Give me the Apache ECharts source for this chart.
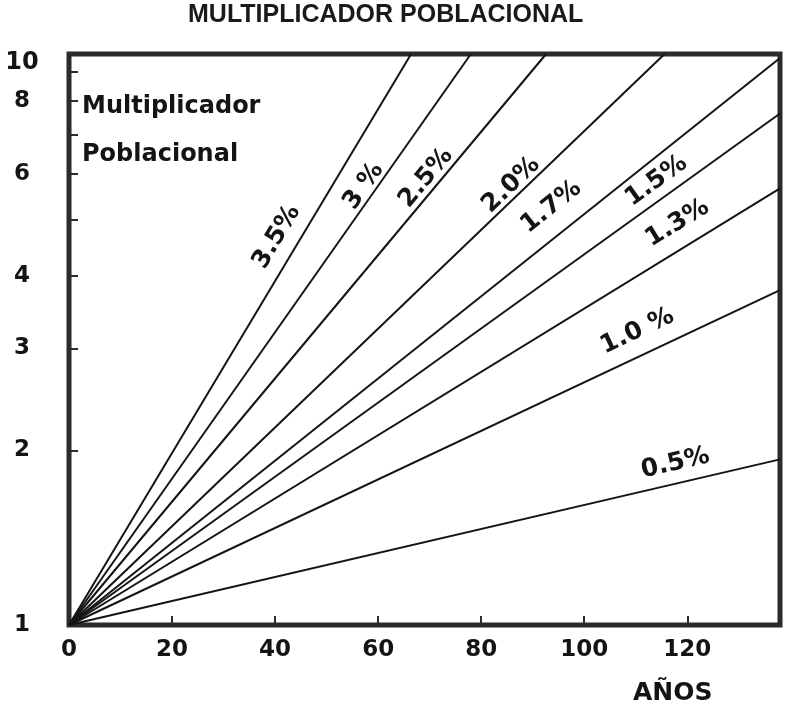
<!DOCTYPE html>
<html><head><meta charset="utf-8">
<script src="https://cdn.jsdelivr.net/npm/echarts@6/dist/echarts.min.js"></script>
<style>html,body{margin:0;padding:0;background:#fff}#c{width:785px;height:708px}</style>
</head><body><div id="c"></div>
<script>
// ---- data ----
const rateLabels = ['3.5%', '3 %', '2.5%', '2.0%', '1.7%', '1.5%', '1.3%', '1.0 %', '0.5%'];
const startYear = 0;
const startValue = 1;
const endYears  = [66.4, 78.0, 92.6, 115.6, 138, 138, 138, 138, 138];
const endValues = [9.65, 9.65, 9.65, 9.65, 9.50, 7.62, 5.66, 3.78, 1.93];
const xTickValues = [0, 20, 40, 60, 80, 100, 120];
const yLabelValues = [1, 2, 3, 4, 6, 8];
const yTopLabel = '10';
const yMinorTicks = [2, 3, 4, 5, 6, 7, 8, 9];
const xMax = 138;
const yMax = 9.65;

// ---- annotation placement (label anchors, data space) ----
const labelAnchorX = [40.3, 57.2, 69.3, 85.8, 93.6, 114.0, 118.1, 110.3, 117.7];
const labelAnchorY = [4.67, 5.71, 5.90, 5.74, 5.26, 5.83, 4.93, 3.21, 1.90];

const INK = '#141414';
const FONT = 'DejaVu Sans';
const chart = echarts.init(document.getElementById('c'), null, {renderer: 'canvas'});

function buildSeries(angles) {
  return rateLabels.map((name, i) => ({
    name: name,
    type: 'line',
    data: [[startYear, startValue], [endYears[i], endValues[i]]],
    symbol: 'none',
    silent: true,
    clip: true,
    lineStyle: {color: INK, width: 2},
    markPoint: {
      symbol: 'circle',
      symbolSize: 0,
      silent: true,
      data: [{coord: [labelAnchorX[i], labelAnchorY[i]], value: name}],
      label: {
        show: true, position: 'inside', formatter: name,
        rotate: angles ? angles[i] : 0,
        color: INK, fontFamily: FONT, fontWeight: 'bold', fontSize: 25
      }
    }
  }));
}

const option = {
  animation: false,
  backgroundColor: '#fff',
  title: [
    {text: 'MULTIPLICADOR POBLACIONAL', left: 188, top: 3, padding: 0,
     textStyle: {fontFamily: 'Liberation Sans', fontWeight: 'bold', fontSize: 25, color: '#1a1a1a'}},
    {text: 'Multiplicador', left: 82, top: 95, padding: 0,
     textStyle: {fontFamily: FONT, fontWeight: 'bold', fontSize: 24, color: INK}},
    {text: 'Poblacional', left: 82, top: 143, padding: 0,
     textStyle: {fontFamily: FONT, fontWeight: 'bold', fontSize: 24, color: INK}},
    {text: 'AÑOS', left: 633, top: 681, padding: 0,
     textStyle: {fontFamily: FONT, fontWeight: 'bold', fontSize: 25, color: INK}}
  ],
  grid: {left: 69, right: 5, top: 54, bottom: 83, show: true,
         borderColor: '#2b2b2b', borderWidth: 5, backgroundColor: 'transparent'},
  xAxis: {
    type: 'value', min: 0, max: xMax, interval: 20,
    axisLine: {show: false},
    splitLine: {show: false},
    axisTick: {show: true, inside: true, length: 9, lineStyle: {color: '#2b2b2b', width: 2},
               customValues: xTickValues},
    axisLabel: {customValues: xTickValues, margin: 14, color: INK,
                fontFamily: FONT, fontWeight: 'bold', fontSize: 23}
  },
  yAxis: {
    type: 'log', logBase: 10, min: 1, max: yMax,
    axisLine: {show: false},
    splitLine: {show: false},
    minorTick: {show: false},
    axisTick: {show: true, inside: true, length: 9, lineStyle: {color: '#2b2b2b', width: 2},
               customValues: yMinorTicks},
    axisLabel: {
      customValues: yLabelValues.concat([yMax]),
      align: 'center', margin: 47, color: INK,
      fontFamily: FONT, fontWeight: 'bold', fontSize: 23,
      formatter: v => (v > 9 ? '{t|' + yTopLabel + '}' : String(Math.round(v))),
      rich: {t: {padding: [18, 0, 0, 0], fontFamily: FONT, fontWeight: 'bold', fontSize: 24, color: INK}}
    }
  },
  series: buildSeries(null)
};
chart.setOption(option);

// rotate each label to the on-screen slope of its own line
const angles = rateLabels.map((n, i) => {
  const p0 = chart.convertToPixel({gridIndex: 0}, [startYear, startValue]);
  const p1 = chart.convertToPixel({gridIndex: 0}, [endYears[i], endValues[i]]);
  return Math.atan2(p0[1] - p1[1], p1[0] - p0[0]) * 180 / Math.PI;
});
chart.setOption({series: buildSeries(angles)});
</script></body></html>
